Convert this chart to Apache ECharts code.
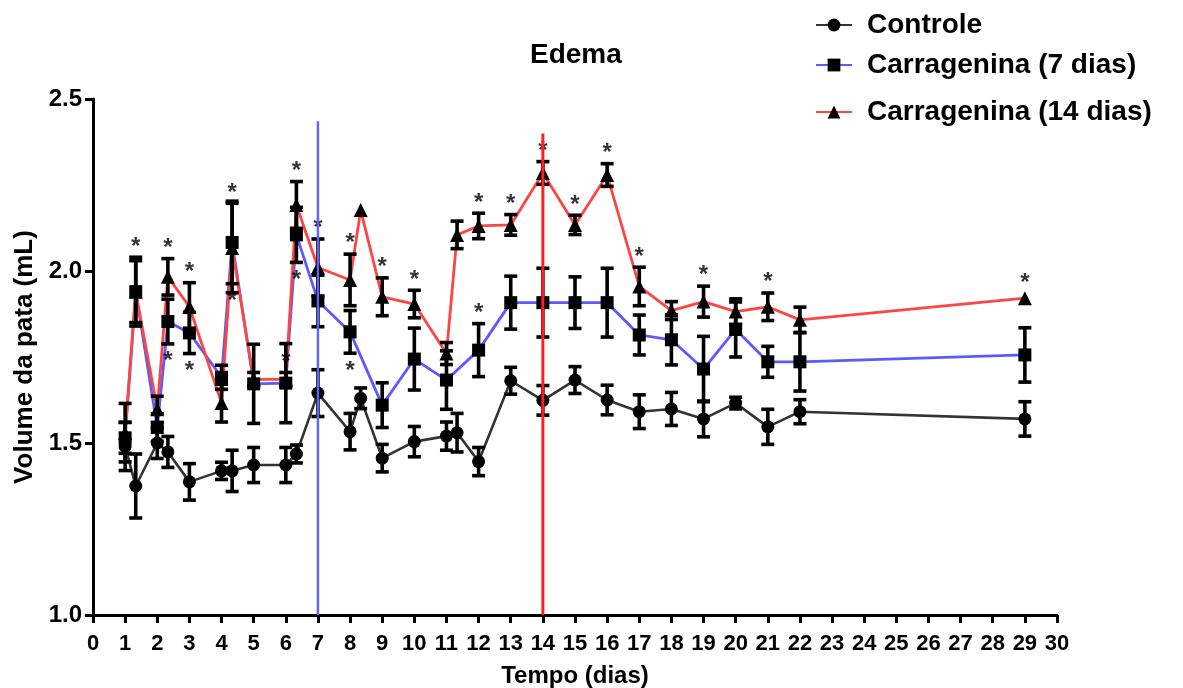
<!DOCTYPE html>
<html>
<head>
<meta charset="utf-8">
<script src="https://cdn.jsdelivr.net/npm/echarts@6/dist/echarts.min.js"></script>
<style>
  html, body { margin: 0; padding: 0; background: #fff; }
  #edema { width: 1183px; height: 688px; }
</style>
</head>
<body>
<div id="edema"></div>
<script>
// dias de medida (os pontos deslocados sao a segunda medida do mesmo dia)
const diasControle = [1, 1.33, 2, 2.33, 3, 4, 4.33, 5, 6, 6.33, 7, 8, 8.33, 9, 10, 11, 11.33, 12, 13, 14, 15, 16, 17, 18, 19, 20, 21, 22, 29]
const controle     = [1.49, 1.375, 1.50, 1.474, 1.387, 1.419, 1.419, 1.436, 1.436, 1.468, 1.645, 1.533, 1.63, 1.456, 1.504, 1.52, 1.53, 1.446, 1.681, 1.624, 1.683, 1.625, 1.591, 1.599, 1.57, 1.616, 1.547, 1.591, 1.57]
const semControle  = [0.07, 0.093, 0.045, 0.045, 0.053, 0.025, 0.06, 0.051, 0.051, 0.026, 0.068, 0.053, 0.03, 0.04, 0.044, 0.041, 0.056, 0.041, 0.039, 0.043, 0.039, 0.043, 0.049, 0.048, 0.052, 0.017, 0.051, 0.035, 0.05]

const dias7  = [1, 1.33, 2, 2.33, 3, 4, 4.33, 5, 6, 6.33, 7, 8, 9, 10, 11, 12, 13, 14, 15, 16, 17, 18, 19, 20, 21, 22, 29]
const carr7  = [1.515, 1.94, 1.545, 1.853, 1.82, 1.691, 2.083, 1.672, 1.674, 2.105, 1.913, 1.823, 1.61, 1.744, 1.683, 1.77, 1.908, 1.908, 1.908, 1.908, 1.814, 1.80, 1.715, 1.83, 1.736, 1.736, 1.756]
const sem7   = [0.045, 0.09, 0.04, 0.065, 0.06, 0.035, 0.12, 0.115, 0.115, 0.08, 0.075, 0.062, 0.065, 0.09, 0.085, 0.077, 0.077, 0.1, 0.075, 0.1, 0.058, 0.073, 0.095, 0.08, 0.045, 0.085, 0.079]

const dias14 = [1, 1.33, 2, 2.33, 3, 4, 4.33, 5, 6, 6.33, 7, 8, 8.33, 9, 10, 11, 11.33, 12, 13, 14, 15, 16, 17, 18, 19, 20, 21, 22, 29]
const carr14 = [1.53, 1.94, 1.598, 1.983, 1.896, 1.616, 2.067, 1.685, 1.685, 2.192, 2.01, 1.974, 2.177, 1.925, 1.904, 1.76, 2.105, 2.131, 2.134, 2.285, 2.134, 2.279, 1.955, 1.885, 1.911, 1.882, 1.896, 1.858, 1.921]
const sem14  = [0.085, 0.1, 0.038, 0.053, 0.07, 0.055, 0.13, 0.02, 0.02, 0.068, 0.083, 0.075, 0, 0.055, 0.04, 0.032, 0.04, 0.037, 0.03, 0.033, 0.028, 0.033, 0.056, 0.026, 0.045, 0.037, 0.04, 0.037, 0]

// dias com * (p < 0,05)
const asterAcima14 = [1.33, 2.33, 3, 4.33, 6, 6.33, 7, 8, 9, 10, 12, 13, 14, 15, 16, 17, 19, 21, 29]
const asterAbaixo7 = [2.33, 3, 4.33, 6.33, 8]
const asterAcima7  = [12]

// linhas verticais: inicio da carragenina (dia, altura)
const linhasDias   = [7, 14]
const linhasTopo   = [2.435, 2.40]
const linhasCores  = ['#6262ff', '#ff1f1f']

const FONT = "'Liberation Sans', Arial, sans-serif"
const GAP_ASTER = 0.03

function pares(xs, ys) {
    return xs.map((x, i) => [x, ys[i]])
}

function erroSerie(name, xs, ys, sems) {
    let data = []
    xs.forEach((x, i) => {
        if (sems[i] > 0) data.push([x, ys[i] - sems[i], ys[i] + sems[i]])
    })
    return {
        type: 'custom',
        name: name,
        z: 4,
        silent: true,
        data: data,
        encode: { x: 0, y: [1, 2] },
        renderItem: (params, api) => {
            const lo = api.coord([api.value(0), api.value(1)])
            const hi = api.coord([api.value(0), api.value(2)])
            const w = 6.5
            const st = { stroke: '#000', lineWidth: 3.6 }
            return {
                type: 'group',
                children: [
                    { type: 'line', shape: { x1: lo[0], y1: lo[1], x2: hi[0], y2: hi[1] }, style: st },
                    { type: 'line', shape: { x1: lo[0] - w, y1: lo[1], x2: lo[0] + w, y2: lo[1] }, style: st },
                    { type: 'line', shape: { x1: hi[0] - w, y1: hi[1], x2: hi[0] + w, y2: hi[1] }, style: st },
                ]
            }
        }
    }
}

function asteriscos() {
    let data = []
    asterAcima14.forEach(d => {
        const i = dias14.indexOf(d)
        data.push([d, carr14[i] + sem14[i] + GAP_ASTER + (sem14[i] > 0 ? 0 : 0.012)])
    })
    asterAbaixo7.forEach(d => {
        const i = dias7.indexOf(d)
        data.push([d, carr7[i] - sem7[i] - GAP_ASTER - 0.022])
    })
    asterAcima7.forEach(d => {
        const i = dias7.indexOf(d)
        data.push([d, carr7[i] + sem7[i] + GAP_ASTER])
    })
    return data
}

const chart = echarts.init(document.getElementById('edema'), null, { renderer: 'canvas' })

const chartOptions = {
    animation: false,
    backgroundColor: '#fff',
    title: {
        text: 'Edema',
        left: 525,
        top: 36,
        textStyle: { fontFamily: FONT, fontSize: 28, fontWeight: 'bold', color: '#000' },
    },
    legend: [
        { name: 'Controle', top: 6 },
        { name: 'Carragenina (7 dias)', top: 46 },
        { name: 'Carragenina (14 dias)', top: 93 },
    ].map(l => ({
        data: [l.name],
        left: 810,
        top: l.top,
        itemWidth: 36,
        itemHeight: 16,
        selectedMode: false,
        textStyle: { fontFamily: FONT, fontSize: 28, fontWeight: 'bold', color: '#000', padding: [0, 0, 0, 10] },
    })),
    grid: {
        top: 99,
        right: 126,
        bottom: 73,
        left: 93,
        outerBoundsMode: 'none',
    },
    xAxis: {
        type: 'value',
        min: 0,
        max: 30,
        interval: 1,
        name: 'Tempo (dias)',
        nameLocation: 'middle',
        nameGap: 49,
        nameTextStyle: { fontFamily: FONT, fontSize: 24, fontWeight: 'bold', color: '#000' },
        splitLine: { show: false },
        axisLine: { onZero: false, lineStyle: { color: '#000', width: 3 } },
        axisTick: { length: 8, lineStyle: { color: '#000', width: 3 } },
        axisLabel: { fontFamily: FONT, fontSize: 22, fontWeight: 'bold', color: '#000', margin: 18 },
    },
    yAxis: {
        type: 'value',
        min: 1.0,
        max: 2.5,
        interval: 0.5,
        name: 'Volume da pata (mL)',
        nameLocation: 'middle',
        nameGap: 49,
        nameTextStyle: { fontFamily: FONT, fontSize: 26, fontWeight: 'bold', color: '#000' },
        splitLine: { show: false },
        axisLine: { show: true, lineStyle: { color: '#000', width: 3 } },
        axisTick: { show: true, length: 8, lineStyle: { color: '#000', width: 3 } },
        axisLabel: {
            fontFamily: FONT, fontSize: 24, fontWeight: 'bold', color: '#000', margin: 11,
            formatter: v => v.toFixed(1),
        },
    },
    series: [
        {
            type: 'line',
            name: 'Controle',
            data: pares(diasControle, controle),
            symbol: 'circle',
            symbolSize: 13,
            z: 3,
            itemStyle: { color: '#000' },
            lineStyle: { color: '#333', width: 2.6 },
        },
        {
            type: 'line',
            name: 'Carragenina (7 dias)',
            data: pares(dias7, carr7),
            symbol: 'rect',
            symbolSize: 13,
            z: 3,
            itemStyle: { color: '#000' },
            lineStyle: { color: '#5a5aff', width: 2.8 },
        },
        {
            type: 'line',
            name: 'Carragenina (14 dias)',
            data: pares(dias14, carr14),
            symbol: 'triangle',
            symbolSize: 14,
            z: 3,
            itemStyle: { color: '#000' },
            lineStyle: { color: '#ff4444', width: 2.8 },
        },
        erroSerie('erroControle', diasControle, controle, semControle),
        erroSerie('erro7', dias7, carr7, sem7),
        erroSerie('erro14', dias14, carr14, sem14),
        {
            type: 'scatter',
            name: 'asteriscos',
            data: asteriscos(),
            symbolSize: 0,
            z: 5,
            silent: true,
            label: {
                show: true,
                position: 'inside',
                formatter: '*',
                fontFamily: FONT,
                fontSize: 24,
                fontWeight: 'bold',
                color: '#000',
            },
        },
        {
            type: 'custom',
            name: 'linhasCarragenina',
            z: 6,
            silent: true,
            data: linhasDias.map((d, i) => [d, linhasTopo[i], i]),
            encode: { x: 0, y: 1 },
            renderItem: (params, api) => {
                const top = api.coord([api.value(0), api.value(1)])
                const bot = api.coord([api.value(0), 1.0])
                return {
                    type: 'line',
                    shape: { x1: top[0], y1: top[1], x2: bot[0], y2: bot[1] },
                    style: { stroke: linhasCores[api.value(2)], lineWidth: params.dataIndex === 0 ? 2.4 : 3 },
                }
            }
        },
    ],
}

chart.setOption(chartOptions)
</script>
</body>
</html>
